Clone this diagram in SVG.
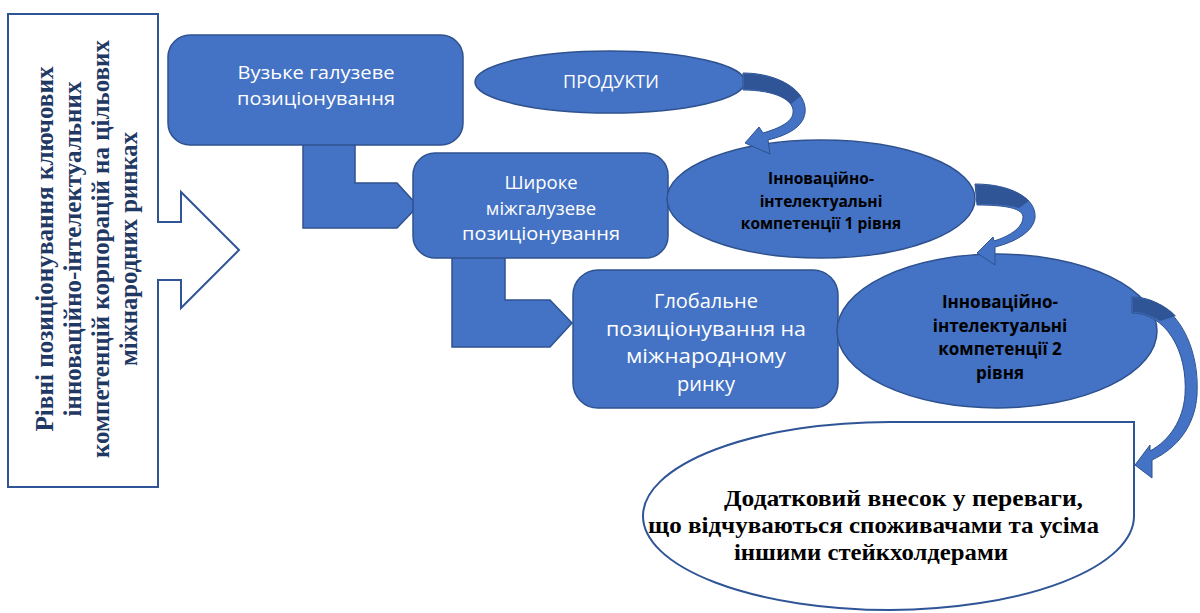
<svg xmlns="http://www.w3.org/2000/svg" width="1200" height="613" viewBox="0 0 1200 613">
  <style>
    .node { fill: #4472C4; stroke: #2F528F; stroke-width: 1.5; }
    .ntext { font-family: "Open Sans", "Liberation Sans", sans-serif; fill: #FFFFFF; text-anchor: middle; }
    .etext { font-family: "Open Sans", "Liberation Sans", sans-serif; font-weight: bold; fill: #000000; text-anchor: middle; }
    .serif { font-family: "Liberation Serif", "Times New Roman", serif; font-weight: bold; }
    .outline { fill: #FFFFFF; stroke: #2F5597; stroke-width: 2; }
    .carrow { fill: #4472C4; stroke: #2F528F; stroke-width: 1; }
    .cdark { fill: #2F5597; }
    .barrow { fill: #4472C4; stroke: #2F528F; stroke-width: 1.5; }
  </style>

  <!-- Left box with block arrow -->
  <g id="levels">
    <rect class="outline" x="8" y="14" width="150" height="473"/>
    <polygon points="157,223 181,223 181,192 239,250 181,308 181,279 157,279" fill="#FFFFFF"/>
    <polyline points="158,222 181,222 181,192 239,250 181,308 181,280 158,280" fill="none" stroke="#2F5597" stroke-width="2"/>
    <g transform="translate(83,249) rotate(-90)" class="serif" fill="#1F3864" font-size="26" text-anchor="middle">
      <text x="0" y="-30" textLength="365" lengthAdjust="spacingAndGlyphs">Рівні позиціонування ключових</text>
      <text x="0" y="-2" textLength="335" lengthAdjust="spacingAndGlyphs">інноваційно-інтелектуальних</text>
      <text x="0" y="26" textLength="418" lengthAdjust="spacingAndGlyphs">компетенцій корпорацій на цільових</text>
      <text x="0" y="54" textLength="234" lengthAdjust="spacingAndGlyphs">міжнародних ринках</text>
    </g>
  </g>

  <!-- Connectors -->
  <g id="connectors">
    <polygon class="barrow" points="303,140 355,140 355,183 397,183 418,206 397,228 303,228"/>
    <polygon class="barrow" points="452,255 505,255 505,300 550,300 572,323 550,347 452,347"/>
  </g>

  <g id="node-narrow">
    <rect class="node" x="168" y="35" width="295" height="110" rx="22"/>
    <text class="ntext" font-size="18.5" x="316" y="79" textLength="157" lengthAdjust="spacingAndGlyphs">Вузьке галузеве</text>
    <text class="ntext" font-size="18.5" x="316" y="105" textLength="158" lengthAdjust="spacingAndGlyphs">позиціонування</text>
  </g>

  <g id="node-broad">
    <rect class="node" x="413" y="153" width="255" height="105" rx="22"/>
    <text class="ntext" font-size="18.5" x="541" y="189">Широке</text>
    <text class="ntext" font-size="18.5" x="541" y="214.5">міжгалузеве</text>
    <text class="ntext" font-size="18.5" x="541" y="240" textLength="158" lengthAdjust="spacingAndGlyphs">позиціонування</text>
  </g>

  <g id="node-global">
    <rect class="node" x="573" y="270" width="265" height="138" rx="25"/>
    <text class="ntext" font-size="20" x="706" y="308">Глобальне</text>
    <text class="ntext" font-size="20" x="706" y="335.5" textLength="200" lengthAdjust="spacingAndGlyphs">позиціонування на</text>
    <text class="ntext" font-size="20" x="706" y="363" textLength="160" lengthAdjust="spacingAndGlyphs">міжнародному</text>
    <text class="ntext" font-size="20" x="706" y="390.5">ринку</text>
  </g>

  <g id="node-products">
    <ellipse class="node" cx="610" cy="82" rx="135" ry="31"/>
    <text class="ntext" font-size="18" x="611" y="88">ПРОДУКТИ</text>
  </g>

  <g id="node-comp1">
    <ellipse class="node" cx="821" cy="199" rx="154" ry="59"/>
    <text class="etext" font-size="15.5" x="821" y="184">Інноваційно-</text>
    <text class="etext" font-size="15.5" x="821" y="206.5">інтелектуальні</text>
    <text class="etext" font-size="15.5" x="821" y="229">компетенції 1 рівня</text>
  </g>

  <g id="node-comp2">
    <ellipse class="node" cx="997" cy="331" rx="160" ry="77"/>
    <text class="etext" font-size="17" x="1000" y="308">Інноваційно-</text>
    <text class="etext" font-size="17" x="1000" y="331.5">інтелектуальні</text>
    <text class="etext" font-size="17" x="1000" y="355">компетенції 2</text>
    <text class="etext" font-size="17" x="1000" y="378.5">рівня</text>
  </g>

  <g id="node-benefit">
    <path class="outline" d="M643,516 A247,94 0 0 1 890,422 L1134,422 L1134,516 A247,94 0 0 1 890,610 A247,94 0 0 1 643,516 Z"/>
    <g class="serif" font-size="24" fill="#000000">
      <text x="724" y="506" textLength="359" lengthAdjust="spacingAndGlyphs">Додатковий внесок у переваги,</text>
      <text x="648" y="533" textLength="451" lengthAdjust="spacingAndGlyphs">що відчуваються споживачами та усіма</text>
      <text x="734" y="560" textLength="274" lengthAdjust="spacingAndGlyphs">іншими стейкхолдерами</text>
    </g>
  </g>

  <!-- Curved arrows -->
  <g id="curved-connectors">
    <path class="carrow" d="M743,73 C780,73 808,92 805,113 C803,127 788,135 768,140 L770,154 L745,143 L759,127 L763,133 C780,128 792,122 793,113 C795,100 775,90 743,90 Z"/>
    <path class="cdark" d="M744,74 C770,74 790,82 801,96 L791,104 C782,95 765,89 744,89 Z"/>
    <path class="carrow" d="M975,184 C1010,184 1037,198 1035,218 C1033,232 1015,242 995,247 L995,265 L977,253 L993,237 L994,241 C1010,236 1022,228 1023,218 C1024,208 1005,205 977,205 Z"/>
    <path class="cdark" d="M976,185 C1000,185 1018,190 1029,201 L1019,208 C1010,205 995,204 977,204 Z"/>
    <path class="carrow" d="M1132,297 C1175,297 1200,345 1197,395 C1195,425 1178,448 1152,460 L1152,478 L1135,465 L1150,445 L1150,451 C1170,440 1183,420 1185,395 C1188,350 1165,313 1132,313 Z"/>
    <path class="cdark" d="M1133,298 C1150,298 1165,304 1176,316 L1160,321 C1152,316 1143,312 1133,312 Z"/>
  </g>
</svg>
